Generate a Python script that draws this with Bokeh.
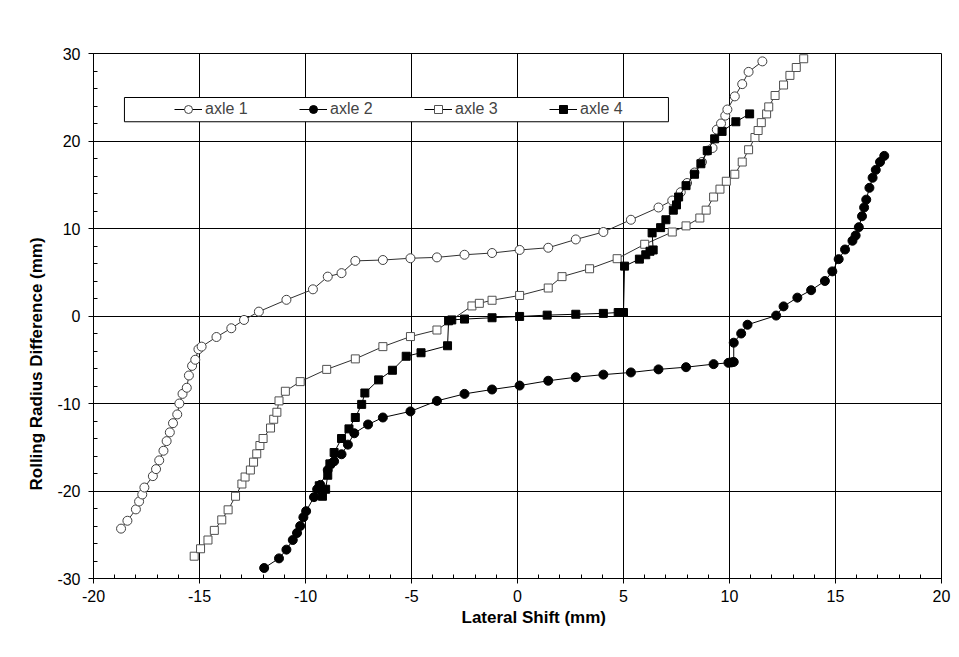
from bokeh.plotting import figure
from bokeh.models import Range1d, FixedTicker, BoxAnnotation, Legend, LegendItem, Title
from bokeh.embed import file_html
from bokeh.resources import INLINE

# ---------------- data ----------------
axle1_x = [-18.7, -18.4, -18.0, -17.85, -17.7, -17.6, -17.2, -17.05, -16.9, -16.7, -16.55, -16.4,
           -16.25, -16.05, -15.95, -15.8, -15.6, -15.5, -15.35, -15.2, -15.05, -14.9, -14.2, -13.5,
           -12.9, -12.2, -10.9, -9.65, -8.95, -8.3, -7.65, -6.35, -5.05, -3.8, -2.5, -1.2, 0.1,
           1.45, 2.75, 4.05, 5.35, 6.65, 7.3, 7.7, 8.0, 8.35, 8.7, 8.98, 9.2, 9.4, 9.6, 9.8, 9.9,
           10.25, 10.6, 10.9, 11.55]
axle1_y = [-24.3, -23.4, -22.1, -21.2, -20.4, -19.6, -18.3, -17.5, -16.5, -15.4, -14.3, -13.3,
           -12.25, -11.25, -10.0, -8.9, -8.2, -6.8, -5.7, -5.0, -3.8, -3.5, -2.4, -1.4,
           -0.45, 0.5, 1.85, 3.05, 4.5, 4.9, 6.3, 6.4, 6.6, 6.7, 7.0, 7.2, 7.55,
           7.8, 8.75, 9.6, 11.0, 12.4, 13.2, 14.15, 15.2, 16.4, 17.6, 18.9, 19.2, 21.3, 22.0, 22.9, 23.6,
           25.1, 26.5, 27.9, 29.1]

axle2_x = [-11.95, -11.25, -10.9, -10.6, -10.4, -10.25, -10.1, -9.97, -9.6, -9.45, -9.3, -8.95,
           -8.8, -8.65, -8.3, -8.0, -7.7, -7.05, -6.35, -5.05, -3.8, -2.5, -1.2, 0.1, 1.45, 2.75,
           4.05, 5.35, 6.65, 7.95, 9.25, 9.95, 10.1, 10.2, 10.2, 10.55, 10.85, 12.2, 12.55, 13.2,
           13.85, 14.5, 14.85, 15.15, 15.45, 15.8, 15.95, 16.1, 16.25, 16.35, 16.45, 16.6, 16.75,
           16.9, 17.1, 17.3]
axle2_y = [-28.8, -27.7, -26.7, -25.6, -24.8, -24.0, -23.0, -22.3, -20.7, -19.8, -19.3, -17.6,
           -16.9, -16.6, -15.8, -14.7, -13.4, -12.4, -11.6, -10.9, -9.7, -8.9, -8.4, -7.95, -7.4, -7.0,
           -6.7, -6.45, -6.1, -5.85, -5.5, -5.35, -5.3, -5.25, -3.05, -2.0, -1.0, 0.05, 1.1, 2.1,
           2.95, 4.0, 5.1, 6.5, 7.6, 8.6, 9.2, 10.15, 11.4, 12.4, 13.3, 14.65, 15.8,
           16.7, 17.6, 18.3]

axle3_x = [-15.25, -14.95, -14.6, -14.3, -13.95, -13.65, -13.3, -13.0, -12.85, -12.6, -12.45, -12.3,
           -12.15, -12.0, -11.65, -11.5, -11.35, -11.25, -10.95, -10.25, -9.0, -7.65, -6.35, -5.05,
           -3.8, -2.15, -1.8, -1.2, 0.1, 1.45, 2.1, 3.4, 4.7, 6.0, 7.3, 7.95, 8.6, 8.9, 9.25, 9.55,
           9.85, 10.25, 10.6, 10.9, 11.2, 11.35, 11.5, 11.75, 11.85, 12.15, 12.55, 12.85, 13.15, 13.5]
axle3_y = [-27.45, -26.6, -25.6, -24.5, -23.3, -22.15, -20.6, -19.2, -18.4, -17.6, -16.7, -15.75,
           -14.8, -14.0, -12.8, -11.8, -11.0, -9.7, -8.6, -7.5, -6.1, -4.9, -3.5, -2.35,
           -1.6, 1.15, 1.45, 1.8, 2.35, 3.2, 4.5, 5.4, 6.55, 8.2, 9.6, 10.3, 11.2, 12.1, 13.6, 14.5,
           15.4, 16.2, 17.6, 19.0, 20.4, 21.2, 22.1, 23.1, 23.9, 25.2, 26.4, 27.5, 28.4, 29.4]

axle4_x = [-9.2, -9.35, -9.05, -8.95, -8.85, -8.65, -8.3, -7.95, -7.65, -7.35, -7.2, -6.55, -5.9,
           -5.25, -4.55, -3.3, -3.25, -3.1, -2.5, -1.2, 0.1, 1.4, 2.75, 4.05, 4.75, 5.0, 5.05, 5.75,
           6.05, 6.25, 6.4, 6.35, 6.75, 7.0, 7.35, 7.5, 7.6, 7.95, 8.35, 8.65, 8.95, 9.3, 9.65,
           10.3, 10.95]
axle4_y = [-20.6, -19.4, -19.8, -18.2, -16.9, -15.6, -14.0, -12.9, -11.6, -10.1, -8.8, -7.3, -6.2,
           -4.6, -4.2, -3.4, -0.55, -0.45, -0.35, -0.2, -0.05, 0.1, 0.2, 0.3, 0.4, 0.4, 5.7, 6.5,
           7.0, 7.4, 7.55, 9.5, 10.1, 11.0, 12.1, 12.7, 13.6, 14.9, 16.2, 17.4, 18.9, 20.25, 21.1,
           22.2, 23.1]

series_labels = ["axle 1", "axle 2", "axle 3", "axle 4"]
x_ticks = [-20, -15, -10, -5, 0, 5, 10, 15, 20]
y_ticks = [-30, -20, -10, 0, 10, 20, 30]

FONT = "Liberation Sans"

p = figure(width=957, height=657,
           x_range=Range1d(-20, 20), y_range=Range1d(-30, 30),
           output_backend="svg", toolbar_location=None,
           min_border_left=93, min_border_right=16, min_border_top=53, min_border_bottom=79)
p.styles = {"outline": "1px solid #000", "outline-offset": "-6px"}
p.background_fill_color = "white"
p.border_fill_color = "white"
p.outline_line_color = "black"
p.outline_line_width = 1

# grid
p.xgrid.ticker = FixedTicker(ticks=x_ticks)
p.ygrid.ticker = FixedTicker(ticks=y_ticks)
for g in (p.xgrid, p.ygrid):
    g.grid_line_color = "black"
    g.grid_line_width = 1
    g.grid_line_alpha = 1

# axes
p.xaxis.ticker = FixedTicker(ticks=x_ticks, minor_ticks=list(range(-20, 21)))
p.yaxis.ticker = FixedTicker(ticks=y_ticks, minor_ticks=list(range(-30, 31, 2)))
p.xaxis.major_label_overrides = {t: str(t) for t in x_ticks}
p.yaxis.major_label_overrides = {t: str(t) for t in y_ticks}
for ax in (p.xaxis, p.yaxis):
    ax.axis_line_color = "black"
    ax.major_tick_line_color = "black"
    ax.minor_tick_line_color = "black"
    ax.major_tick_out = 5
    ax.major_tick_in = 0
    ax.minor_tick_out = 0
    ax.minor_tick_in = 4
    ax.major_label_text_font = FONT
    ax.major_label_text_font_size = "16px"
    ax.major_label_text_color = "black"
p.xaxis.major_label_standoff = 6
p.yaxis.major_label_standoff = 8

# axis titles (placed like the original: slightly off-centre)
xt = Title(text="Lateral Shift (mm)", align="left", offset=368, standoff=2,
           text_font=FONT, text_font_style="bold", text_font_size="17px", text_color="black")
p.add_layout(xt, "below")
yt = Title(text="Rolling Radius Difference (mm)", align="left", offset=88, standoff=18,
           text_font=FONT, text_font_style="bold", text_font_size="17px", text_color="black")
p.add_layout(yt, "left")

# series
l1 = p.line(axle1_x, axle1_y, line_color="#303030", line_width=1)
s1 = p.scatter(axle1_x, axle1_y, marker="circle", size=9, fill_color="white",
               line_color="#404040", line_width=1)
l2 = p.line(axle2_x, axle2_y, line_color="black", line_width=1)
s2 = p.scatter(axle2_x, axle2_y, marker="circle", size=9, fill_color="black",
               line_color="black", line_width=1)
l3 = p.line(axle3_x, axle3_y, line_color="#303030", line_width=1)
s3 = p.scatter(axle3_x, axle3_y, marker="square", size=8, fill_color="white",
               line_color="#505050", line_width=1)
l4 = p.line(axle4_x, axle4_y, line_color="black", line_width=1)
s4 = p.scatter(axle4_x, axle4_y, marker="square", size=8, fill_color="black",
               line_color="black", line_width=1)

# legend-only glyphs (hidden, smaller markers as in the original legend)
styles = [dict(marker="circle", fill_color="white", line_color="#404040"),
          dict(marker="circle", fill_color="black", line_color="black"),
          dict(marker="square", fill_color="white", line_color="#505050"),
          dict(marker="square", fill_color="black", line_color="black")]
series_xy = [(axle1_x, axle1_y), (axle2_x, axle2_y), (axle3_x, axle3_y), (axle4_x, axle4_y)]
leg_items = []
for lab, st, (sx, sy) in zip(series_labels, styles, series_xy):
    ll = p.line(sx, sy, line_color="black", line_width=1, visible=False)
    ss = p.scatter(sx, sy, size=7, line_width=1, visible=False, **st)
    leg_items.append(LegendItem(label=lab, renderers=[ll, ss]))

# legend frame
box = BoxAnnotation(left=-18.54, right=7.12, bottom=22.2, top=24.97,
                    fill_color="white", fill_alpha=1, line_color="black", line_width=1,
                    line_alpha=1)
p.add_layout(box)

legend = Legend(items=leg_items,
                orientation="horizontal", location=(81, 459),
                padding=0, margin=0, spacing=34, glyph_width=28, glyph_height=20,
                label_width=60, label_height=20, label_standoff=3,
                label_text_font=FONT, label_text_font_size="16px",
                border_line_color=None, background_fill_alpha=0,
                inactive_fill_alpha=0)
p.add_layout(legend, "center")

open("out.html", "w").write(file_html(p, INLINE))
